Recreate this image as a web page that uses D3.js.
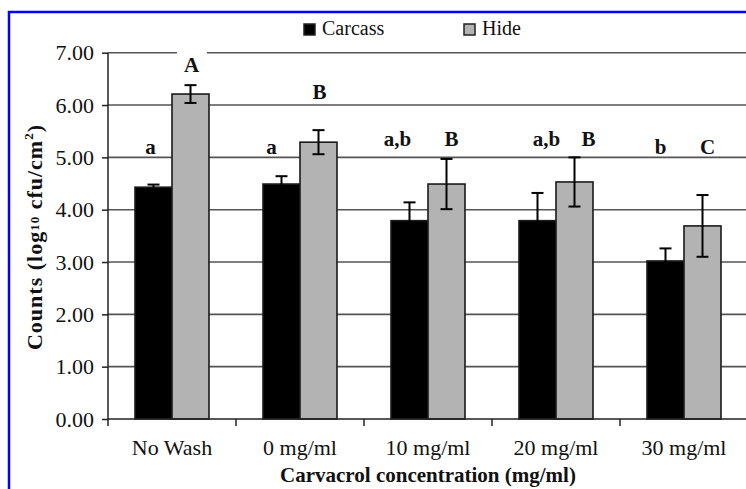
<!DOCTYPE html>
<html>
<head>
<meta charset="utf-8">
<script src="https://cdn.jsdelivr.net/npm/d3@7"></script>
<style>
  body { margin: 0; background: #fff; }
  svg text { font-family: 'Liberation Serif', 'Times New Roman', serif; fill: #111; }
</style>
</head>
<body>
<div id="chart"></div>
<script>
// data
const categories     = ['No Wash', '0 mg/ml', '10 mg/ml', '20 mg/ml', '30 mg/ml'];
const seriesNames    = ['Carcass', 'Hide'];
const carcassMeans   = [4.43, 4.49, 3.79, 3.79, 3.02];
const carcassErrors  = [0.05, 0.15, 0.35, 0.53, 0.24];
const hideMeans      = [6.21, 5.29, 4.49, 4.53, 3.69];
const hideErrors     = [0.17, 0.23, 0.48, 0.47, 0.59];
const carcassLetters = ['a', 'a', 'a,b', 'a,b', 'b'];
const hideLetters    = ['A', 'B', 'B', 'B', 'C'];
const yTicks         = [0, 1, 2, 3, 4, 5, 6, 7];

// where the letters sit (y in data units, x nudge in px)
const carcassLetterY  = [5.06, 5.06, 5.22, 5.22, 5.06];
const hideLetterY     = [6.63, 6.11, 5.22, 5.22, 5.06];
const carcassLetterDx = [-3, -10, -12, 9, -5];
const hideLetterDx    = [1, 1, 5, 14, 5];

function BarChart(divID) {
  const width  = 746;
  const height = 489;
  const font   = "'Liberation Serif', 'Times New Roman', serif";
  const colors = {Carcass: '#000000', Hide: '#b3b3b3'};

  const rows = categories.map((c, i) => ({
    category: c,
    values: [
      {series: 'Carcass', value: carcassMeans[i], err: carcassErrors[i],
       letter: carcassLetters[i], ly: carcassLetterY[i], dx: carcassLetterDx[i]},
      {series: 'Hide', value: hideMeans[i], err: hideErrors[i],
       letter: hideLetters[i], ly: hideLetterY[i], dx: hideLetterDx[i]}
    ]
  }));

  const svg = d3.select('#' + divID)
    .append('svg')
    .attr('width', width)
    .attr('height', height)
    .style('font-family', font);

  svg.append('rect')
    .attr('width', width).attr('height', height)
    .attr('fill', '#fff');

  // blue frame, runs off the right and bottom of the picture
  svg.append('rect')
    .attr('x', 9).attr('y', 12)
    .attr('width', width + 20).attr('height', height + 20)
    .attr('fill', 'none')
    .attr('stroke', '#0000ff')
    .attr('stroke-width', 2.5);

  const xScale = d3.scaleBand()
    .domain(categories)
    .range([108, 748]);

  const xInner = d3.scaleBand()
    .domain(seriesNames)
    .range([xScale.bandwidth() / 2 - 37, xScale.bandwidth() / 2 + 37]);

  const yScale = d3.scaleLinear()
    .domain([0, 7])
    .range([419, 52.7]);

  // gridlines
  svg.append('g')
    .selectAll('line')
    .data(yTicks.filter(t => t > 0))
    .enter()
    .append('line')
      .attr('x1', 108).attr('x2', 760)
      .attr('y1', d => yScale(d)).attr('y2', d => yScale(d))
      .attr('stroke', '#555')
      .attr('stroke-width', 1.6);

  // y-axis
  const yAxis = svg.append('g')
    .attr('transform', 'translate(108, 0)')
    .call(d3.axisLeft(yScale).tickValues(yTicks).tickFormat(d3.format('.2f')).tickSize(6).tickPadding(8))
    .attr('font-family', null)
    .attr('font-size', null);
  yAxis.select('.domain').remove();
  yAxis.selectAll('line').attr('stroke', '#222').attr('stroke-width', 1.5);
  yAxis.selectAll('text').style('font-size', '22px').style('font-family', font).attr('fill', '#111');
  yAxis.append('line')
    .attr('y1', yScale(7)).attr('y2', 426)
    .attr('stroke', '#222').attr('stroke-width', 1.5);

  // x-axis labels
  const xAxis = svg.append('g')
    .attr('transform', `translate(0, ${yScale(0)})`)
    .call(d3.axisBottom(xScale).tickSize(0).tickPadding(20))
    .attr('font-family', null)
    .attr('font-size', null);
  xAxis.select('.domain').remove();
  xAxis.selectAll('text').style('font-size', '22px').style('font-family', font).attr('fill', '#111');

  // bars
  const groups = svg.append('g')
    .selectAll('g')
    .data(rows)
    .enter()
    .append('g')
    .attr('transform', d => `translate(${xScale(d.category)}, 0)`);

  groups.selectAll('rect')
    .data(d => d.values)
    .enter()
    .append('rect')
      .attr('x',      d => xInner(d.series))
      .attr('y',      d => yScale(d.value))
      .attr('width',  xInner.bandwidth())
      .attr('height', d => yScale(0) - yScale(d.value))
      .attr('fill',   d => colors[d.series])
      .attr('stroke', '#1a1a1a')
      .attr('stroke-width', 1.6);

  // error bars
  const err = groups.selectAll('g.err')
    .data(d => d.values)
    .enter()
    .append('g')
    .attr('class', 'err')
    .attr('stroke', '#000')
    .attr('stroke-width', 2);
  const cx = d => xInner(d.series) + xInner.bandwidth() / 2;
  err.append('line')
    .attr('x1', cx).attr('x2', cx)
    .attr('y1', d => yScale(d.value + d.err))
    .attr('y2', d => yScale(d.value - d.err));
  err.append('line')
    .attr('x1', d => cx(d) - 6).attr('x2', d => cx(d) + 6)
    .attr('y1', d => yScale(d.value + d.err)).attr('y2', d => yScale(d.value + d.err));
  err.append('line')
    .attr('x1', d => cx(d) - 6).attr('x2', d => cx(d) + 6)
    .attr('y1', d => yScale(d.value - d.err)).attr('y2', d => yScale(d.value - d.err));

  // x-axis line and ticks between categories
  svg.append('line')
    .attr('x1', 108).attr('x2', 760)
    .attr('y1', yScale(0)).attr('y2', yScale(0))
    .attr('stroke', '#222').attr('stroke-width', 1.5);
  svg.append('g')
    .selectAll('line')
    .data(categories.slice(1))
    .enter()
    .append('line')
      .attr('x1', d => xScale(d)).attr('x2', d => xScale(d))
      .attr('y1', yScale(0)).attr('y2', yScale(0) + 7)
      .attr('stroke', '#222').attr('stroke-width', 1.5);

  // significance letters, white box only above the baseline
  const letters = groups.selectAll('g.letter')
    .data(d => d.values)
    .enter()
    .append('g')
    .attr('class', 'letter')
    .attr('transform', d => `translate(${cx(d) + d.dx}, ${yScale(d.ly)})`);
  letters.append('text')
    .attr('text-anchor', 'middle')
    .style('font-size', '21px')
    .style('font-weight', 'bold')
    .text(d => d.letter);
  letters.each(function() {
    const g = d3.select(this);
    const box = g.select('text').node().getBBox();
    g.insert('rect', 'text')
      .attr('x', box.x - 7).attr('y', box.y - 3)
      .attr('width', box.width + 14).attr('height', -1 - (box.y - 3))
      .attr('fill', '#fff');
  });

  // legend
  const legend = svg.append('g')
    .selectAll('g')
    .data(seriesNames)
    .enter()
    .append('g')
    .attr('transform', (d, i) => `translate(${304 + i * 160}, 24)`);
  legend.append('rect')
    .attr('width', 11).attr('height', 11)
    .attr('fill', d => colors[d])
    .attr('stroke', '#222').attr('stroke-width', 1.5);
  legend.append('text')
    .attr('x', 18).attr('y', 11)
    .style('font-size', '20px')
    .text(d => d);

  // axis titles
  svg.append('text')
    .attr('x', 428).attr('y', 482)
    .attr('text-anchor', 'middle')
    .style('font-size', '21px')
    .style('font-weight', 'bold')
    .text('Carvacrol concentration (mg/ml)');

  const yTitle = svg.append('text')
    .attr('transform', 'translate(42, 237) rotate(-90)')
    .attr('text-anchor', 'middle')
    .style('font-size', '22px')
    .style('font-weight', 'bold')
    .style('letter-spacing', '1px');
  yTitle.append('tspan').text('Counts (log');
  yTitle.append('tspan').attr('dy', -3).style('font-size', '13px').text('10');
  yTitle.append('tspan').attr('dy', 3).text(' cfu/cm');
  yTitle.append('tspan').attr('dy', -9).style('font-size', '13px').text('2');
  yTitle.append('tspan').attr('dy', 9).text(')');
}

BarChart('chart');
</script>
</body>
</html>
